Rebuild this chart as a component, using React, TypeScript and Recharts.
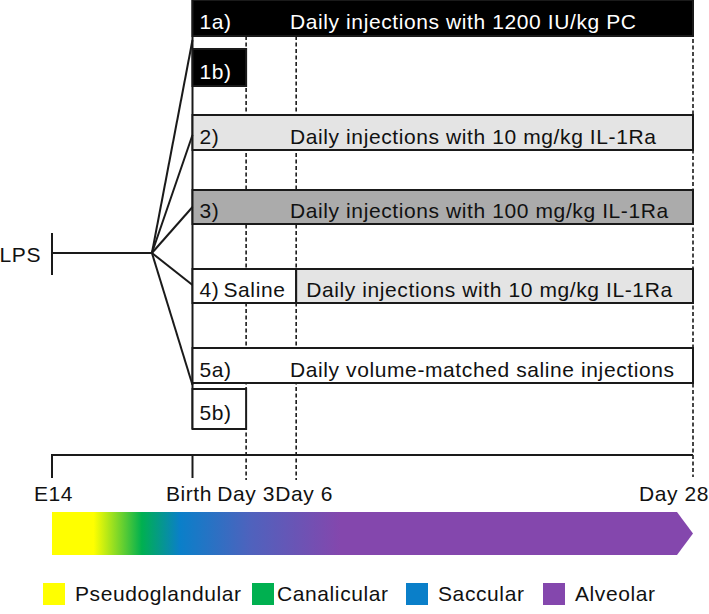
import React from 'react';
import {
  ComposedChart,
  XAxis,
  YAxis,
  Line,
  ReferenceArea,
  ReferenceLine,
  ReferenceDot,
  Legend,
} from 'recharts';

// ---------------- data ----------------
const timepointLabels = ['E14', 'Birth', 'Day 3', 'Day 6', 'Day 28'];
// schematic position of each timepoint, in days relative to birth
const timepointDays = [-7.86, 0, 3, 5.8, 28];

const lpsLabel = 'LPS';
const lpsDay = -7.86; // LPS given at E14
const branchDay = -2.27;

// treatment segments
const segGroups = ['1a)', '1b)', '2)', '3)', '4)', '4)', '5a)', '5b)'];
const segStart = [0, 0, 0, 0, 0, 5.8, 0, 0];
const segEnd = [28, 3, 28, 28, 5.8, 28, 28, 3];
const segTreatment = ['PC', 'PC', 'IL1Ra10', 'IL1Ra100', 'Saline', 'IL1Ra10', 'Saline', 'Saline'];
const segText = [
  'Daily injections with 1200 IU/kg PC',
  '',
  'Daily injections with 10 mg/kg IL-1Ra',
  'Daily injections with 100 mg/kg IL-1Ra',
  'Saline',
  'Daily injections with 10 mg/kg IL-1Ra',
  'Daily volume-matched saline injections',
  '',
];

const phaseNames = ['Pseudoglandular', 'Canalicular', 'Saccular', 'Alveolar'];

// ---------------- layout / style ----------------
const W = 709;
const H = 614;
const X_MIN = -10.769;
const X_MAX = 28.895;
const FONT = '"Liberation Sans", Arial, Helvetica, sans-serif';
const FS = 21;
const LS = 0.6;

const ROW_Y: Record<string, [number, number]> = {
  '1a)': [0, 36],
  '1b)': [49, 86],
  '2)': [115, 150],
  '3)': [190, 224],
  '4)': [269, 303],
  '5a)': [348, 383],
  '5b)': [389, 429],
};
const BRANCH_ENDS_Y = [40, 135, 207, 285, 385];
const LPS_Y = 253;
const LPS_TICK: [number, number] = [233, 275];
const TIMELINE_Y = 455;
const TICK_BOTTOM = 478;
const DASH_TOP = [36, 36, 0];
const DASH_BOTTOM = [480, 480, 477];
const LABEL_Y = 501;
const LABEL_DX = [1.5, -3.5, 0, 8, -19];
const ARROW_Y: [number, number] = [512, 555];
const LEGEND_LEFT = [43, 252, 406, 543];

const TREAT_STYLE: Record<string, { fill: string; text: string }> = {
  PC: { fill: '#000000', text: '#ffffff' },
  IL1Ra10: { fill: '#e4e4e4', text: '#111111' },
  IL1Ra100: { fill: '#ababab', text: '#111111' },
  Saline: { fill: '#ffffff', text: '#111111' },
};
const PHASE_COLORS = ['#ffff00', '#00b050', '#0a7fc9', '#8447ad'];

const timelineData = [
  { x: timepointDays[0], y: TIMELINE_Y },
  { x: timepointDays[4], y: TIMELINE_Y },
];

const textProps = {
  fontFamily: FONT,
  fontSize: FS,
  letterSpacing: LS,
};

const makeBarShape = (i: number) => (p: any) => {
  const { x, y, width, height } = p;
  const st = TREAT_STYLE[segTreatment[i]];
  const isFirst = segStart[i] === 0;
  const full = segEnd[i] === 28;
  const ty = y + height / 2 + 11;
  let textX = x + 10;
  if (isFirst && full) textX = x + 97.5;
  else if (isFirst) textX = x + 31;
  return (
    <g>
      <rect x={x} y={y} width={width} height={height} fill={st.fill} stroke="#1a1a1a" strokeWidth={2} />
      {isFirst && (
        <text x={x + 7} y={ty} fill={st.text} {...textProps}>
          {segGroups[i]}
        </text>
      )}
      {segText[i] && (
        <text x={textX} y={ty} fill={st.text} {...textProps}>
          {segText[i]}
        </text>
      )}
    </g>
  );
};

const arrowShape = (p: any) => {
  const { x, y, width, height } = p;
  const tip = 16;
  const xb = x + width - tip;
  const pts = `${x},${y} ${xb},${y} ${x + width},${y + height / 2} ${xb},${y + height} ${x},${y + height}`;
  return (
    <g>
      <defs>
        <linearGradient id="phaseGrad" x1="0" y1="0" x2="1" y2="0">
          <stop offset="0" stopColor={PHASE_COLORS[0]} />
          <stop offset="0.065" stopColor={PHASE_COLORS[0]} />
          <stop offset="0.14" stopColor={PHASE_COLORS[1]} />
          <stop offset="0.2" stopColor={PHASE_COLORS[2]} />
          <stop offset="0.31" stopColor="#4f62bd" />
          <stop offset="0.45" stopColor={PHASE_COLORS[3]} />
          <stop offset="1" stopColor={PHASE_COLORS[3]} />
        </linearGradient>
      </defs>
      <polygon points={pts} fill="url(#phaseGrad)" />
    </g>
  );
};

const textShape = (label: string, dx: number, anchor: 'start' | 'middle' | 'end') => (p: any) => (
  <text x={p.cx + dx} y={p.cy} textAnchor={anchor} fill="#111111" {...textProps}>
    {label}
  </text>
);

const renderLegend = () => (
  <div style={{ position: 'relative', width: W, height: 22, fontFamily: FONT, fontSize: FS, letterSpacing: LS, color: '#111' }}>
    {phaseNames.map((name, i) => (
      <div key={name} style={{ position: 'absolute', left: LEGEND_LEFT[i], top: 0, display: 'flex', alignItems: 'center', height: 22, whiteSpace: 'nowrap' }}>
        <div style={{ width: 22, height: 22, background: PHASE_COLORS[i], marginRight: i === 0 ? 10 : i === 1 ? 3 : 10, flex: 'none' }} />
        <span style={{ lineHeight: '22px' }}>{name}</span>
      </div>
    ))}
  </div>
);

export default function App() {
  return (
    <div style={{ position: 'absolute', left: 0, top: 0, width: W, height: H, background: '#fff' }}>
      <ComposedChart width={W} height={H} data={timelineData} margin={{ top: 0, right: 0, bottom: 0, left: 0 }}>
        <XAxis type="number" dataKey="x" domain={[X_MIN, X_MAX]} allowDataOverflow hide />
        <YAxis type="number" dataKey="y" domain={[0, H]} reversed allowDataOverflow hide />

        {/* dashed day markers */}
        {[2, 3, 4].map((k, j) => (
          <ReferenceLine
            key={`dash-${k}`}
            segment={[
              { x: timepointDays[k], y: DASH_TOP[j] },
              { x: timepointDays[k], y: DASH_BOTTOM[j] },
            ]}
            stroke="#1a1a1a"
            strokeWidth={1.6}
            strokeDasharray="4 2.5"
            zIndex={50}
          />
        ))}

        {/* birth vertical */}
        <ReferenceLine
          segment={[
            { x: 0, y: 0 },
            { x: 0, y: ROW_Y['5b)'][1] },
          ]}
          stroke="#1a1a1a"
          strokeWidth={2}
          zIndex={60}
        />

        {/* treatment bars */}
        {segGroups.map((g, i) => (
          <ReferenceArea
            key={`seg-${i}`}
            x1={segStart[i]}
            x2={segEnd[i]}
            y1={ROW_Y[g][0]}
            y2={ROW_Y[g][1]}
            fillOpacity={1}
            shape={makeBarShape(i)}
            zIndex={150}
          />
        ))}

        {/* LPS line and branches */}
        <ReferenceLine
          segment={[
            { x: lpsDay, y: LPS_TICK[0] },
            { x: lpsDay, y: LPS_TICK[1] },
          ]}
          stroke="#1a1a1a"
          strokeWidth={2}
          zIndex={300}
        />
        <ReferenceLine
          segment={[
            { x: lpsDay, y: LPS_Y },
            { x: branchDay, y: LPS_Y },
          ]}
          stroke="#1a1a1a"
          strokeWidth={2}
          zIndex={300}
        />
        {BRANCH_ENDS_Y.map((by, i) => (
          <ReferenceLine
            key={`br-${i}`}
            segment={[
              { x: branchDay, y: LPS_Y },
              { x: 0, y: by },
            ]}
            stroke="#1a1a1a"
            strokeWidth={2}
            zIndex={300}
          />
        ))}

        {/* timeline */}
        <Line
          dataKey="y"
          stroke="#1a1a1a"
          strokeWidth={2}
          dot={false}
          activeDot={false}
          isAnimationActive={false}
          legendType="none"
        />
        {[0, 1].map((k) => (
          <ReferenceLine
            key={`tick-${k}`}
            segment={[
              { x: timepointDays[k], y: TIMELINE_Y - 1 },
              { x: timepointDays[k], y: TICK_BOTTOM },
            ]}
            stroke="#1a1a1a"
            strokeWidth={2}
            zIndex={300}
          />
        ))}

        {/* development arrow */}
        <ReferenceArea
          x1={timepointDays[0]}
          x2={timepointDays[4]}
          y1={ARROW_Y[0]}
          y2={ARROW_Y[1]}
          fillOpacity={1}
          shape={arrowShape}
          zIndex={150}
        />

        {/* texts */}
        <ReferenceDot x={lpsDay} y={262} r={0} shape={textShape(lpsLabel, -11, 'end')} zIndex={700} />
        {timepointLabels.map((t, i) => (
          <ReferenceDot
            key={`lab-${t}`}
            x={timepointDays[i]}
            y={LABEL_Y}
            r={0}
            shape={textShape(t, LABEL_DX[i], 'middle')}
            zIndex={700}
          />
        ))}

        <Legend
          layout="horizontal"
          verticalAlign="middle"
          align="center"
          content={renderLegend}
          wrapperStyle={{ position: 'absolute', left: 0, top: 583, width: W, height: 22 }}
        />
      </ComposedChart>
    </div>
  );
}
